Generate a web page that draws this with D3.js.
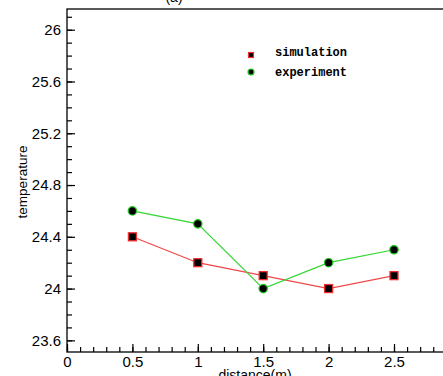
<!DOCTYPE html>
<html>
<head>
<meta charset="utf-8">
<script src="https://cdn.jsdelivr.net/npm/d3@7"></script>
<style>
  body { margin: 0; background: #fff; overflow: hidden; }
  svg { display: block; }
</style>
</head>
<body>
<div id="chart"></div>
<script>
// values
const distance = [0.5, 1, 1.5, 2, 2.5];
const simulation = [24.4, 24.2, 24.1, 24.0, 24.1];
const experiment = [24.6, 24.5, 24.0, 24.2, 24.3];
const xTicks = [0, 0.5, 1, 1.5, 2, 2.5];
const yTicks = [23.6, 24, 24.4, 24.8, 25.2, 25.6, 26];
const xMinor = d3.range(0, 31).map(d => d / 10);
const yMinor = d3.range(236, 262).map(d => d / 10);

const width = 443, height = 376;
const plotLeft = 67, plotTop = 9, plotBottom = 352;

const svg = d3.select("#chart").append("svg")
  .attr("width", width)
  .attr("height", height);

const x = d3.scaleLinear().domain([0, 3]).range([plotLeft, plotLeft + 3 * 130.8]);
const y = d3.scaleLinear().domain([23.51, 26.16]).range([plotBottom, plotTop]);

// frame
svg.append("rect")
  .attr("x", plotLeft).attr("y", plotTop)
  .attr("width", x(3) - plotLeft).attr("height", plotBottom - plotTop)
  .attr("fill", "none").attr("stroke", "#000").attr("stroke-width", 1.3);

// minor ticks
svg.append("g")
  .attr("transform", "translate(0," + plotBottom + ")")
  .call(d3.axisBottom(x).tickValues(xMinor).tickSize(-5).tickFormat(""))
  .call(g => g.select(".domain").remove());
svg.append("g")
  .attr("transform", "translate(" + plotLeft + ",0)")
  .call(d3.axisLeft(y).tickValues(yMinor).tickSize(-5).tickFormat(""))
  .call(g => g.select(".domain").remove());

// major ticks + labels
const xAxis = svg.append("g")
  .attr("transform", "translate(0," + plotBottom + ")")
  .call(d3.axisBottom(x).tickValues(xTicks).tickSizeInner(-8).tickSizeOuter(0).tickPadding(4).tickFormat(d => String(d)));
const yAxis = svg.append("g")
  .attr("transform", "translate(" + plotLeft + ",0)")
  .call(d3.axisLeft(y).tickValues(yTicks).tickSizeInner(-8).tickSizeOuter(0).tickPadding(6).tickFormat(d => String(d)));
[xAxis, yAxis].forEach(g => {
  g.select(".domain").remove();
  g.selectAll("text").attr("font-family", "Liberation Sans, Arial, sans-serif")
    .attr("font-size", 15).attr("fill", "#000");
});
svg.selectAll(".tick line").attr("stroke", "#000").attr("stroke-width", 1.2);

// axis titles
svg.append("text")
  .attr("transform", "translate(27,182) rotate(-90)")
  .attr("text-anchor", "middle")
  .attr("font-family", "Liberation Sans, Arial, sans-serif")
  .attr("font-size", 13.5)
  .text("temperature");
svg.append("text")
  .attr("x", 255).attr("y", 380)
  .attr("text-anchor", "middle")
  .attr("font-family", "Liberation Sans, Arial, sans-serif")
  .attr("font-size", 14)
  .text("distance(m)");
svg.append("text")
  .attr("x", 174).attr("y", 2)
  .attr("text-anchor", "middle")
  .attr("font-family", "Liberation Sans, Arial, sans-serif")
  .attr("font-size", 14)
  .text("(a)");

const line = d3.line().x((d, i) => x(distance[i])).y(d => y(d));

// simulation
svg.append("path").datum(simulation)
  .attr("fill", "none").attr("stroke", "#f04848").attr("stroke-width", 1.2)
  .attr("d", line);
svg.append("g").selectAll("rect").data(simulation).enter().append("rect")
  .attr("x", (d, i) => x(distance[i]) - 4)
  .attr("y", d => y(d) - 4)
  .attr("width", 8).attr("height", 8)
  .attr("fill", "#000").attr("stroke", "#f03030").attr("stroke-width", 1.3);

// experiment
svg.append("path").datum(experiment)
  .attr("fill", "none").attr("stroke", "#33d633").attr("stroke-width", 1.2)
  .attr("d", line);
svg.append("g").selectAll("circle").data(experiment).enter().append("circle")
  .attr("cx", (d, i) => x(distance[i]))
  .attr("cy", d => y(d))
  .attr("r", 4.2)
  .attr("fill", "#000").attr("stroke", "#22cc22").attr("stroke-width", 1.2);

// legend
const legend = svg.append("g").attr("font-family", "Liberation Mono, Courier New, monospace")
  .attr("font-size", 12).attr("font-weight", "bold");
legend.append("rect").attr("x", 248.5).attr("y", 52.5).attr("width", 5).attr("height", 5)
  .attr("fill", "#000").attr("stroke", "#f03030").attr("stroke-width", 1.2);
legend.append("text").attr("x", 275).attr("y", 56).text("simulation");
legend.append("circle").attr("cx", 251).attr("cy", 72).attr("r", 3)
  .attr("fill", "#000").attr("stroke", "#22cc22").attr("stroke-width", 1.2);
legend.append("text").attr("x", 275).attr("y", 76).text("experiment");
</script>
</body>
</html>
